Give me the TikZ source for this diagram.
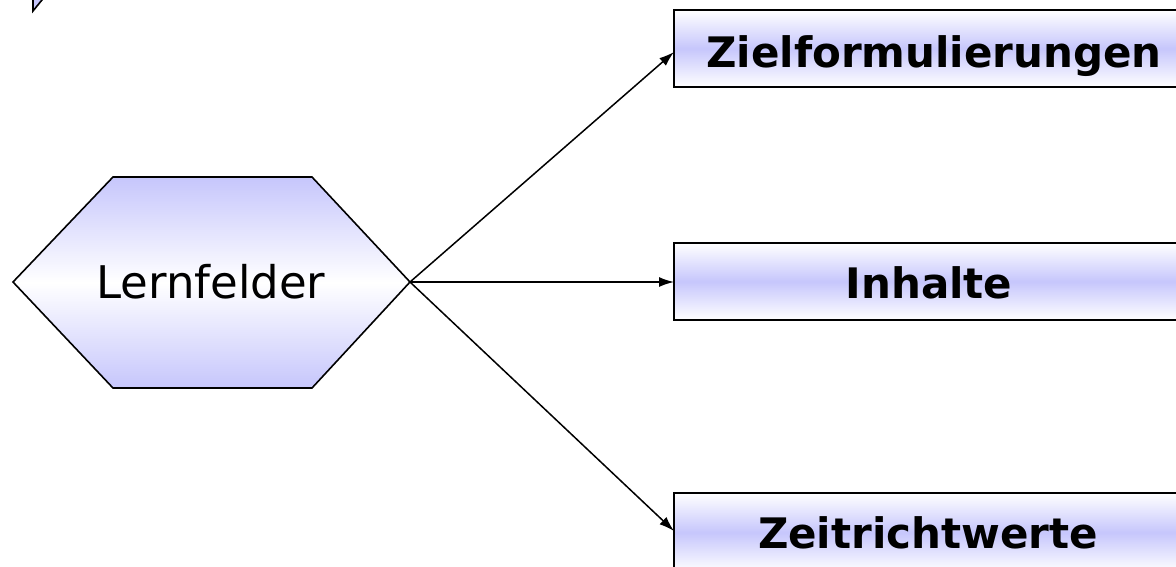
\documentclass[tikz,border=0pt]{standalone}
\usepackage{fontspec}
\setmainfont{DejaVu Sans}
\usetikzlibrary{arrows.meta}
\definecolor{lav}{RGB}{198,198,252}
\begin{document}
\begin{tikzpicture}[x=1pt,y=-1pt,
  boxstyle/.style={draw=black, line width=1.8pt, top color=white, bottom color=white, middle color=lav},
  hexstyle/.style={draw=black, line width=1.6pt, top color=lav, bottom color=lav, middle color=white},
  lbl/.style={font=\fontsize{42}{48}\selectfont\bfseries, inner sep=0pt, anchor=base},
  conn/.style={draw=black, line width=1.5pt, -{Latex[length=15pt,width=10pt]}}]
\useasboundingbox (0,0) rectangle (1176,566);
\begin{scope}
\clip (0,0) rectangle (1176,566);
% cut-off shape at top-left
\filldraw[draw=black, line width=1.6pt, fill=lav] (33,-5) -- (33,11) -- (46,-5);
% hexagon
\path[hexstyle] (13,282) -- (113,177) -- (312,177) -- (410,282) -- (312,388) -- (113,388) -- cycle;
\coordinate (hexR) at (410,282);
\node[font=\fontsize{45}{50}\selectfont, inner sep=0pt] (lf) at (211,282) {Lernfelder};
% boxes
\path[boxstyle] (674,10) rectangle (1190,87);
\path[boxstyle] (674,243) rectangle (1190,320);
\path[boxstyle] (674,493) rectangle (1190,572);
\coordinate (b1) at (674,52);
\coordinate (b2) at (674,282);
\coordinate (b3) at (674,531);
\node[lbl] (t1) at (934,67) {Zielformulierungen};
\node[lbl] (t2) at (929,298) {Inhalte};
\node[lbl] (t3) at (928,548) {Zeitrichtwerte};
\draw[conn] (hexR) -- (b1);
\draw[conn] (hexR) -- (b2);
\draw[conn] (hexR) -- (b3);
\end{scope}
\end{tikzpicture}
\end{document}
